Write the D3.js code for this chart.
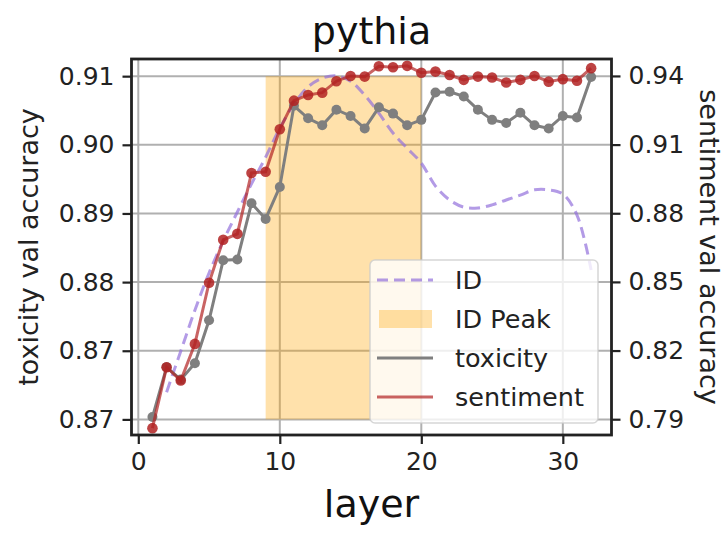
<!DOCTYPE html>
<html><head><meta charset="utf-8">
<script src="https://cdn.jsdelivr.net/npm/d3@7"></script>
<style>html,body{margin:0;padding:0;background:#fff;} svg{display:block;font-family:"DejaVu Sans",sans-serif;}</style>
</head><body><svg id="chart" width="725" height="533"></svg>
<script>
const layers = [1,2,3,4,5,6,7,8,9,10,11,12,13,14,15,16,17,18,19,20,21,22,23,24,25,26,27,28,29,30,31,32];
const toxicity = [0.8663,0.8727,0.8711,0.8732,0.8787,0.8864,0.8865,0.8937,0.8917,0.8958,0.9062,0.9046,0.9037,0.9057,0.9049,0.9033,
                  0.9060,0.9052,0.9037,0.9044,0.9079,0.9080,0.9074,0.9057,0.9044,0.9040,0.9053,0.9037,0.9033,0.9049,0.9047,0.9099];
const sentiment = [0.7861,0.8127,0.8069,0.8229,0.8496,0.8684,0.8710,0.8976,0.8981,0.9167,0.9292,0.9317,0.9327,0.9377,0.9400,0.9397,
                   0.9442,0.9438,0.9444,0.9414,0.9419,0.9404,0.9383,0.9397,0.9393,0.9371,0.9383,0.9400,0.9375,0.9386,0.9379,0.9434];
const idLayers = [2,3,4,5,6,7,8,9,10,11,12,13,14,15,16,17,18,19,20,21,22,23,24,25,26,27,28,29,30,31,32];
const idValues = [0.114,0.223,0.332,0.431,0.516,0.593,0.668,0.739,0.816,0.880,0.926,0.949,0.955,0.941,0.904,0.856,
                  0.803,0.763,0.723,0.662,0.625,0.606,0.604,0.612,0.625,0.638,0.652,0.652,0.641,0.585,0.439];
const idPeak = [9, 20];
const xTicks = [0, 10, 20, 30];
const leftTicks = [0.866, 0.8748, 0.8836, 0.8924, 0.9012, 0.910];
const rightTicks = [0.79, 0.82, 0.85, 0.88, 0.91, 0.94];
const legendLabels = ["ID", "ID Peak", "toxicity", "sentiment"];

const svg = d3.select("#chart");
const L = 131.5, R = 611.5, T = 59, B = 435;
const x = d3.scaleLinear().domain([-0.48, 33.44]).range([L, R]);
const yL = d3.scaleLinear().domain([0.8640, 0.9122]).range([B, T]);
const yR = d3.scaleLinear().domain([0.7831, 0.9474]).range([B, T]);
const yID = d3.scaleLinear().domain([0, 1]).range([B, T]);

const cGray = "#7f7f7f", cRed = "#b22222", cPurple = "#9370db", cOrange = "#ffa500";

svg.append("rect").attr("width", 725).attr("height", 533).attr("fill", "#fff");
svg.append("clipPath").attr("id", "clip").append("rect")
  .attr("x", L).attr("y", T).attr("width", R - L).attr("height", B - T);
const plot = svg.append("g").attr("clip-path", "url(#clip)");

// grid
plot.selectAll(".gx").data(xTicks).join("line")
  .attr("x1", d => x(d)).attr("x2", d => x(d)).attr("y1", T).attr("y2", B)
  .attr("stroke", "#b0b0b0").attr("stroke-width", 2);
plot.selectAll(".gy").data(leftTicks).join("line")
  .attr("x1", L).attr("x2", R).attr("y1", d => yL(d)).attr("y2", d => yL(d))
  .attr("stroke", "#b0b0b0").attr("stroke-width", 2);

// ID peak span
plot.append("rect")
  .attr("x", x(idPeak[0])).attr("width", x(idPeak[1]) - x(idPeak[0]))
  .attr("y", yL(d3.max(leftTicks))).attr("height", yL(d3.min(leftTicks)) - yL(d3.max(leftTicks)))
  .attr("fill", cOrange).attr("fill-opacity", 0.33);

// ID line
plot.append("path")
  .attr("d", d3.line().curve(d3.curveCatmullRom.alpha(0.5)).x((d, i) => x(idLayers[i])).y(d => yID(d))(idValues))
  .attr("fill", "none").attr("stroke", cPurple).attr("stroke-opacity", 0.7)
  .attr("stroke-width", 3).attr("stroke-dasharray", "11,6");

// toxicity
plot.append("path")
  .attr("d", d3.line().x((d, i) => x(layers[i])).y(d => yL(d))(toxicity))
  .attr("fill", "none").attr("stroke", cGray).attr("stroke-width", 3);
plot.selectAll(".tm").data(toxicity).join("circle")
  .attr("cx", (d, i) => x(layers[i])).attr("cy", d => yL(d)).attr("r", 5).attr("fill", cGray);

// sentiment
plot.append("path")
  .attr("d", d3.line().x((d, i) => x(layers[i])).y(d => yR(d))(sentiment))
  .attr("fill", "none").attr("stroke", cRed).attr("stroke-opacity", 0.7).attr("stroke-width", 3);
plot.selectAll(".sm").data(sentiment).join("circle")
  .attr("cx", (d, i) => x(layers[i])).attr("cy", d => yR(d)).attr("r", 5.3).attr("fill", cRed).attr("fill-opacity", 0.85);

// axes
const fmt = d3.format(".2f");
const tickFont = 25;
function styleAxis(g) {
  g.select(".domain").remove();
  g.selectAll(".tick line").attr("stroke", "#222").attr("stroke-width", 2.2);
  g.selectAll(".tick text").attr("font-size", tickFont).attr("fill", "#222").attr("font-family", '"DejaVu Sans", sans-serif');
}
svg.append("g").attr("transform", `translate(0,${B})`)
  .call(d3.axisBottom(x).tickValues(xTicks).tickFormat(d3.format("d")).tickSize(9).tickPadding(8))
  .call(styleAxis);
svg.append("g").attr("transform", `translate(${L},0)`)
  .call(d3.axisLeft(yL).tickValues(leftTicks).tickFormat(fmt).tickSize(9).tickPadding(8))
  .call(styleAxis);
svg.append("g").attr("transform", `translate(${R},0)`)
  .call(d3.axisRight(yR).tickValues(rightTicks).tickFormat(fmt).tickSize(9).tickPadding(8))
  .call(styleAxis);

// frame
svg.append("rect").attr("x", L).attr("y", T).attr("width", R - L).attr("height", B - T)
  .attr("fill", "none").attr("stroke", "#222").attr("stroke-width", 2.8);

// legend
const lg = svg.append("g");
const lx = 370, ly = 260, lw = 228, lh = 163;
lg.append("rect").attr("x", lx).attr("y", ly).attr("width", lw).attr("height", lh).attr("rx", 5)
  .attr("fill", "#fff").attr("fill-opacity", 0.8).attr("stroke", "#cccccc").attr("stroke-opacity", 0.8).attr("stroke-width", 1.5);
const rowY = d3.scalePoint().domain(legendLabels).range([280, 397]);
legendLabels.forEach((lab, i) => {
  const yy = rowY(lab);
  if (i === 0) {
    lg.append("line").attr("x1", 377).attr("x2", 433).attr("y1", yy).attr("y2", yy)
      .attr("stroke", cPurple).attr("stroke-opacity", 0.7).attr("stroke-width", 3).attr("stroke-dasharray", "11,6");
  } else if (i === 1) {
    lg.append("rect").attr("x", 379).attr("y", yy - 9).attr("width", 53).attr("height", 18)
      .attr("fill", cOrange).attr("fill-opacity", 0.33);
  } else {
    lg.append("line").attr("x1", 377).attr("x2", 433).attr("y1", yy).attr("y2", yy)
      .attr("stroke", i === 2 ? cGray : cRed).attr("stroke-opacity", i === 2 ? 1 : 0.7).attr("stroke-width", 3);
  }
  lg.append("text").attr("x", 455).attr("y", yy).attr("dy", "0.36em")
    .attr("font-size", 25.5).attr("fill", "#222").text(lab);
});

// labels
svg.append("text").attr("x", (L + R) / 2).attr("y", 44).attr("text-anchor", "middle")
  .attr("font-size", 38).attr("fill", "#111").text("pythia");
svg.append("text").attr("x", (L + R) / 2).attr("y", 517).attr("text-anchor", "middle")
  .attr("font-size", 38).attr("fill", "#111").text("layer");
svg.append("text").attr("transform", `translate(38,${(T + B) / 2}) rotate(-90)`).attr("text-anchor", "middle")
  .attr("font-size", 27).attr("fill", "#222").text("toxicity val accuracy");
svg.append("text").attr("transform", `translate(700,${(T + B) / 2}) rotate(90)`).attr("text-anchor", "middle")
  .attr("font-size", 27).attr("fill", "#222").text("sentiment val accuracy");
</script></body></html>
